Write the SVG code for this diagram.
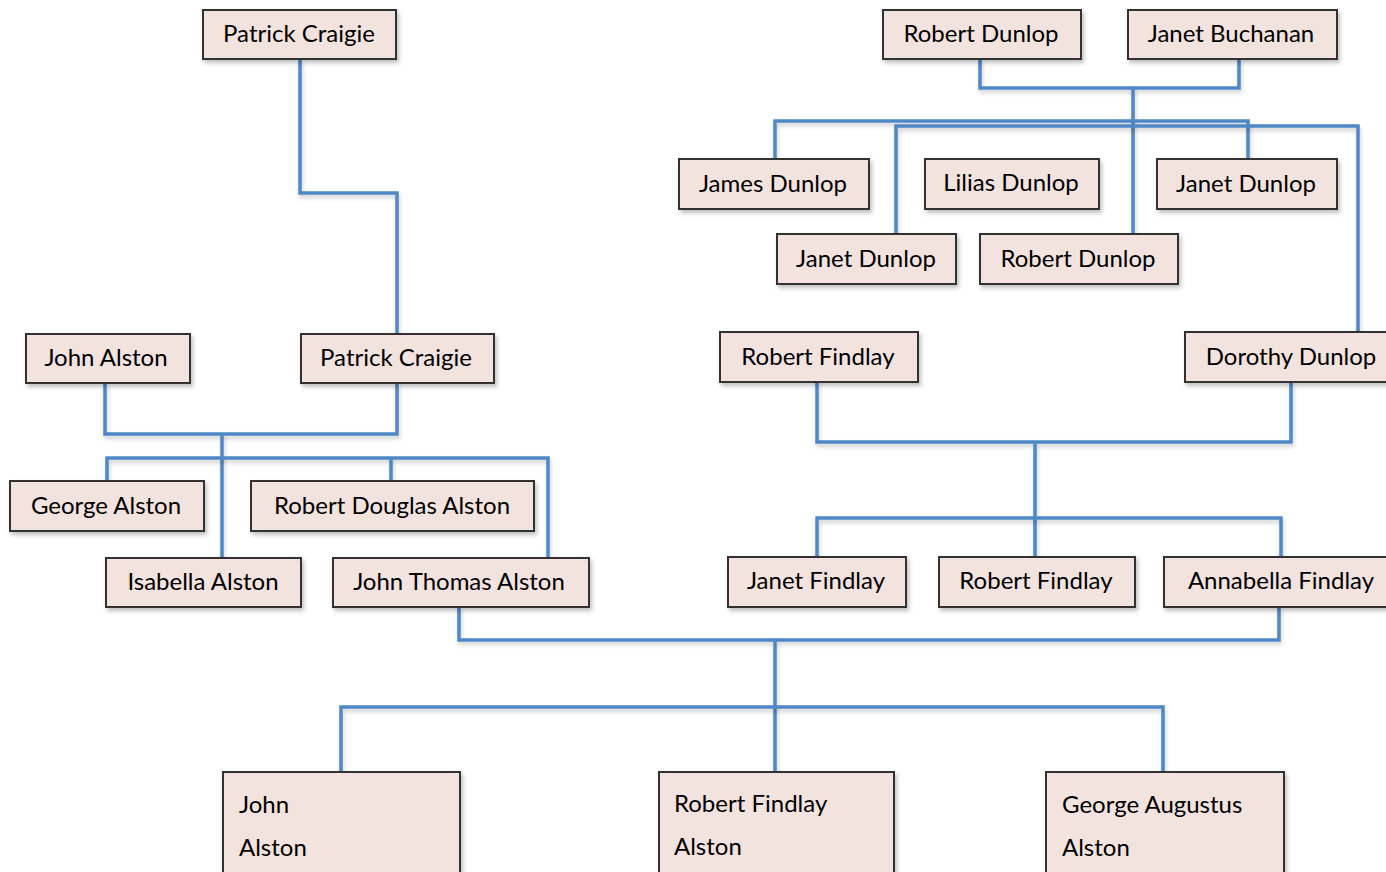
<svg xmlns="http://www.w3.org/2000/svg" width="1386" height="872" viewBox="0 0 1386 872">
  <defs>
    <filter id="shadow" x="-10%" y="-10%" width="130%" height="140%">
      <feDropShadow dx="2" dy="3" stdDeviation="2" flood-color="#000" flood-opacity="0.25"/>
    </filter>
    <!-- user-space region so straight vertical segments still render -->
    <filter id="lineShadow" filterUnits="userSpaceOnUse" x="0" y="0" width="1386" height="872">
      <feDropShadow dx="1" dy="3" stdDeviation="2" flood-color="#000" flood-opacity="0.2"/>
    </filter>
  </defs>
  <style>
    .box { fill: #f2e3df; stroke: #333; stroke-width: 2; filter: url(#shadow); }
    .lbl { font-family: Lato, "Open Sans", "Liberation Sans", sans-serif; font-size: 24px; fill: #000; text-anchor: middle; }
    .lbl-l { text-anchor: start; }
    .link { fill: none; stroke: #4f88c6; stroke-width: 3.5; stroke-linejoin: miter; filter: url(#lineShadow); }
  </style>
  <rect width="1386" height="872" fill="#fff"/>

  <g id="connectors">
    <!-- Patrick Craigie (elder) to Patrick Craigie -->
    <path class="link" d="M300 59 V193 H397 V334"/>
    <!-- Alston / Craigie couple and children -->
    <path class="link" d="M105 383 V434 H397 V383"/>
    <path class="link" d="M222 434 V558"/>
    <path class="link" d="M107 481 V458 H548 V558"/>
    <path class="link" d="M391 458 V481"/>
    <!-- Dunlop / Buchanan couple and children -->
    <path class="link" d="M980 59 V88 H1239 V59"/>
    <path class="link" d="M1133 88 V234"/>
    <path class="link" d="M775 159 V121 H1248 V159"/>
    <path class="link" d="M896 234 V126 H1358 V332"/>
    <!-- Findlay / Dunlop couple and children -->
    <path class="link" d="M817 382 V442 H1291 V382"/>
    <path class="link" d="M1035 442 V557"/>
    <path class="link" d="M817 557 V518 H1281 V557"/>
    <!-- Alston / Findlay couple and children -->
    <path class="link" d="M459 607 V640 H1279 V607"/>
    <path class="link" d="M775 640 V772"/>
    <path class="link" d="M341 772 V707 H1163 V772"/>
  </g>

  <g id="patrick-craigie-1"><rect class="box" x="203" y="10" width="193" height="49"/><text class="lbl" x="299" y="42">Patrick Craigie</text></g>
  <g id="robert-dunlop-1"><rect class="box" x="883" y="10" width="198" height="49"/><text class="lbl" x="981" y="42">Robert Dunlop</text></g>
  <g id="janet-buchanan"><rect class="box" x="1128" y="10" width="209" height="49"/><text class="lbl" x="1231" y="42">Janet Buchanan</text></g>

  <g id="james-dunlop"><rect class="box" x="679" y="159" width="190" height="50"/><text class="lbl" x="773" y="192">James Dunlop</text></g>
  <g id="lilias-dunlop"><rect class="box" x="925" y="159" width="174" height="50"/><text class="lbl" x="1011" y="191">Lilias Dunlop</text></g>
  <g id="janet-dunlop-1"><rect class="box" x="1157" y="159" width="180" height="50"/><text class="lbl" x="1246" y="192">Janet Dunlop</text></g>
  <g id="janet-dunlop-2"><rect class="box" x="777" y="234" width="179" height="50"/><text class="lbl" x="866" y="267">Janet Dunlop</text></g>
  <g id="robert-dunlop-2"><rect class="box" x="980" y="234" width="198" height="50"/><text class="lbl" x="1078" y="267">Robert Dunlop</text></g>

  <g id="john-alston-1"><rect class="box" x="26" y="334" width="164" height="49"/><text class="lbl" x="106" y="366">John Alston</text></g>
  <g id="patrick-craigie-2"><rect class="box" x="301" y="334" width="193" height="49"/><text class="lbl" x="396" y="366">Patrick Craigie</text></g>
  <g id="robert-findlay-1"><rect class="box" x="720" y="332" width="198" height="50"/><text class="lbl" x="818" y="365">Robert Findlay</text></g>
  <g id="dorothy-dunlop"><rect class="box" x="1185" y="332" width="210" height="50"/><text class="lbl" x="1291" y="365">Dorothy Dunlop</text></g>

  <g id="george-alston"><rect class="box" x="10" y="481" width="194" height="50"/><text class="lbl" x="106" y="514">George Alston</text></g>
  <g id="robert-douglas-alston"><rect class="box" x="251" y="481" width="283" height="50"/><text class="lbl" x="392" y="514">Robert Douglas Alston</text></g>
  <g id="isabella-alston"><rect class="box" x="106" y="558" width="195" height="49"/><text class="lbl" x="203" y="590">Isabella Alston</text></g>
  <g id="john-thomas-alston"><rect class="box" x="333" y="558" width="256" height="49"/><text class="lbl" x="459" y="590">John Thomas Alston</text></g>

  <g id="janet-findlay"><rect class="box" x="728" y="557" width="178" height="50"/><text class="lbl" x="816" y="589">Janet Findlay</text></g>
  <g id="robert-findlay-2"><rect class="box" x="939" y="557" width="196" height="50"/><text class="lbl" x="1036" y="589">Robert Findlay</text></g>
  <g id="annabella-findlay"><rect class="box" x="1164" y="557" width="230" height="50"/><text class="lbl" x="1281" y="589">Annabella Findlay</text></g>

  <g id="john-alston-2"><rect class="box" x="223" y="772" width="237" height="110"/><text class="lbl lbl-l" x="239" y="813">John</text><text class="lbl lbl-l" x="239" y="856">Alston</text></g>
  <g id="robert-findlay-alston"><rect class="box" x="659" y="772" width="235" height="110"/><text class="lbl lbl-l" x="674" y="812">Robert Findlay</text><text class="lbl lbl-l" x="674" y="855">Alston</text></g>
  <g id="george-augustus-alston"><rect class="box" x="1046" y="772" width="238" height="110"/><text class="lbl lbl-l" x="1062" y="813">George Augustus</text><text class="lbl lbl-l" x="1062" y="856">Alston</text></g>
</svg>
